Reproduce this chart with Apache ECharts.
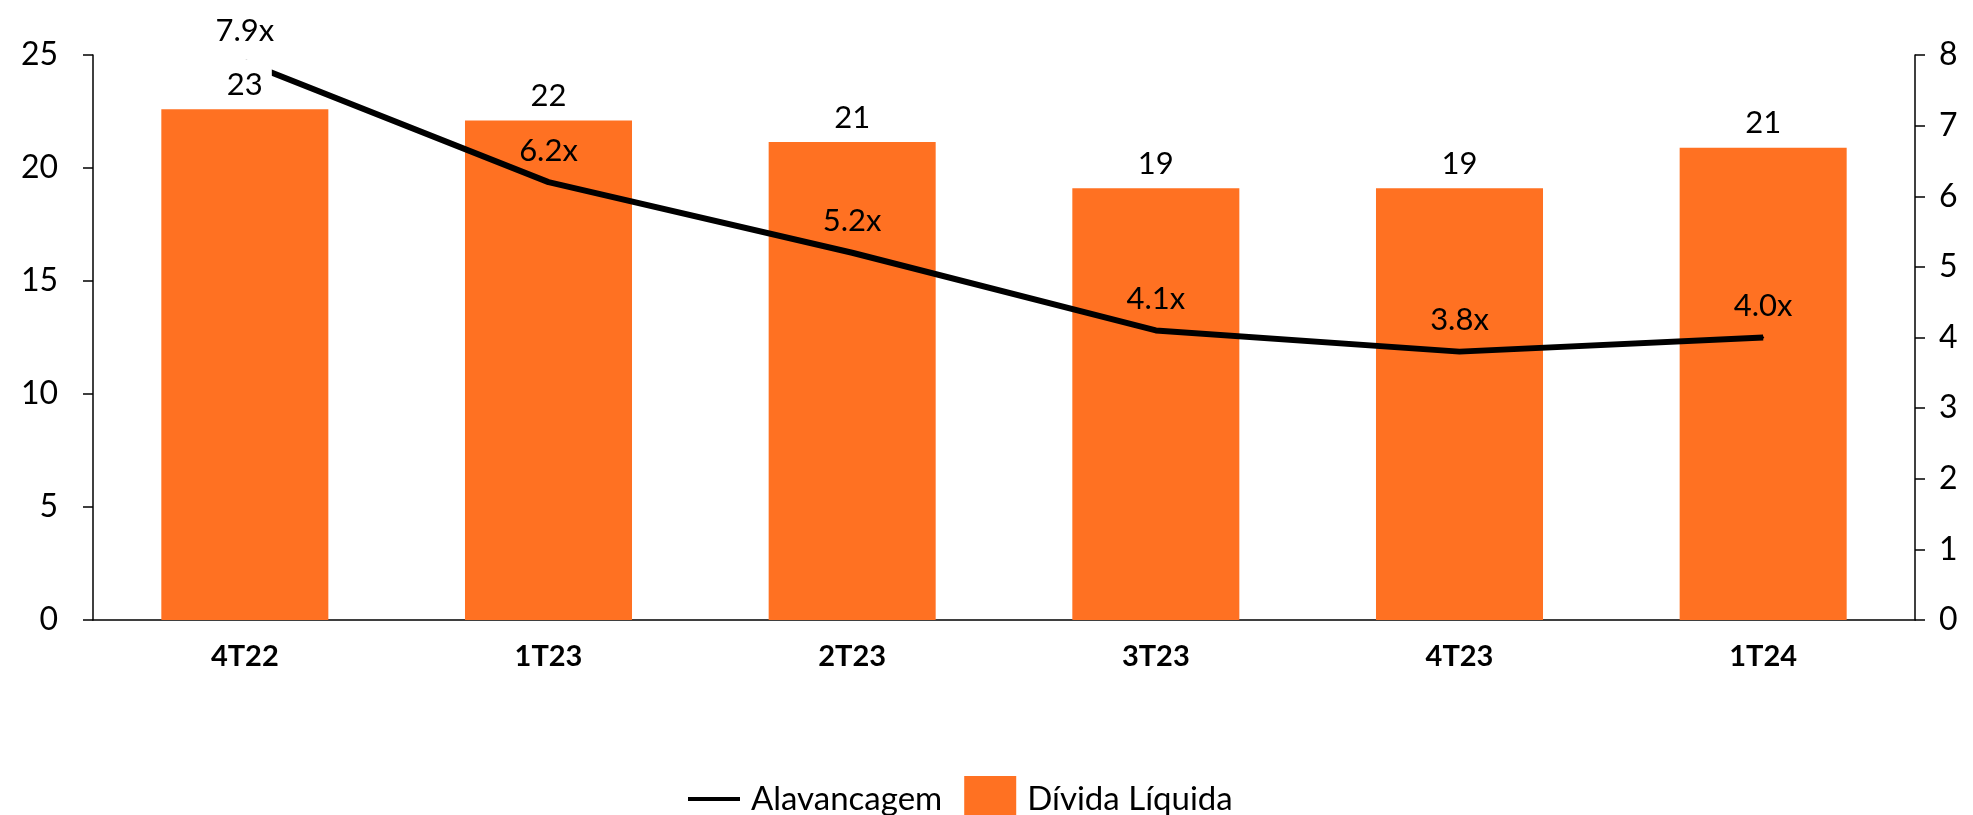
<!DOCTYPE html>
<html>
<head>
<meta charset="utf-8">
<script src="https://cdn.jsdelivr.net/npm/echarts@6/dist/echarts.min.js"></script>
<style>
  html, body { margin: 0; padding: 0; background: #fff; }
  #chart { width: 1973px; height: 815px; }
</style>
</head>
<body>
<div id="chart"></div>
<script>
// quarters and values
const quarters = ['4T22', '1T23', '2T23', '3T23', '4T23', '1T24']
const dividaLiquida = [22.6, 22.1, 21.15, 19.1, 19.1, 20.9]
const alavancagem = [7.9, 6.2, 5.2, 4.1, 3.8, 4.0]

const ORANGE = '#FF7122'
const FONT = 'Lato, "Noto Sans", sans-serif'

const chart = echarts.init(document.getElementById('chart'), null, { renderer: 'canvas' })

chart.setOption({
  animation: false,
  textStyle: { fontFamily: FONT, color: '#000' },
  grid: { left: 93, right: 58, top: 55, bottom: 195 },
  legend: {
    left: 683, top: 771,
    itemWidth: 52, itemHeight: 46, itemGap: 22,
    textStyle: { fontFamily: FONT, fontSize: 33, color: '#000', padding: [0, 0, 0, 6] },
    data: [
      { name: 'Alavancagem', icon: 'path://M0,0L13,0L13,1L0,1Z', itemStyle: { color: '#000' } },
      { name: 'Dívida Líquida', icon: 'rect' }
    ]
  },
  xAxis: {
    type: 'category',
    data: quarters,
    axisLine: { lineStyle: { color: '#000', width: 1.5 } },
    axisTick: { show: false },
    axisLabel: { color: '#000', fontFamily: FONT, fontSize: 29, fontWeight: 'bold', margin: 22 }
  },
  yAxis: [
    {
      type: 'value', min: 0, max: 25, interval: 5,
      axisLine: { show: true, lineStyle: { color: '#000', width: 1.5 } },
      axisTick: { show: true, length: 10, lineStyle: { color: '#000', width: 1.5 } },
      axisLabel: { color: '#000', fontFamily: FONT, fontSize: 32, margin: 35 },
      splitLine: { show: false }
    },
    {
      type: 'value', min: 0, max: 8, interval: 1,
      axisLine: { show: true, lineStyle: { color: '#000', width: 1.5 } },
      axisTick: { show: true, length: 10, lineStyle: { color: '#000', width: 1.5 } },
      axisLabel: { color: '#000', fontFamily: FONT, fontSize: 32, margin: 24 },
      splitLine: { show: false }
    }
  ],
  series: [
    {
      name: 'Dívida Líquida', type: 'bar',
      data: dividaLiquida,
      barWidth: '55%',
      itemStyle: { color: ORANGE },
      z: 2
    },
    {
      name: 'Alavancagem', type: 'line',
      yAxisIndex: 1,
      data: alavancagem,
      symbol: 'circle', symbolSize: 2, showSymbol: true,
      lineStyle: { color: '#000', width: 6 },
      itemStyle: { color: '#000' },
      label: {
        show: true, position: 'top', distance: 15,
        fontFamily: FONT, fontSize: 31, color: '#000',
        formatter: (p) => p.value.toFixed(1) + 'x'
      },
      z: 3
    },
    {
      // value labels of the bars, drawn above the line like in the source
      name: 'rotulos', type: 'bar',
      data: dividaLiquida,
      barWidth: '55%', barGap: '-100%',
      itemStyle: { color: 'rgba(0,0,0,0)' },
      silent: true,
      label: {
        show: true, position: 'top', distance: 9,
        fontFamily: FONT, fontSize: 31, color: '#000',
        backgroundColor: '#fff', padding: [10, 9, 0, 9],
        formatter: (p) => Math.round(p.value)
      },
      z: 4
    }
  ]
})
</script>
</body>
</html>
